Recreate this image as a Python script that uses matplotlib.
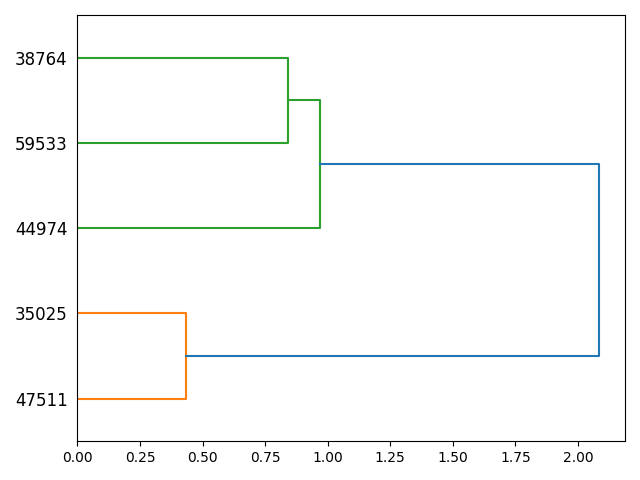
import numpy as np
from matplotlib import pyplot as plt

# leaf labels, bottom to top
leaf_labels = ['47511', '35025', '44974', '59533', '38764']

# dendrogram links (scipy style): icoord = leaf axis, dcoord = merge distance
icoord = [[5.0, 5.0, 15.0, 15.0],
          [35.0, 35.0, 45.0, 45.0],
          [25.0, 25.0, 40.0, 40.0],
          [10.0, 10.0, 32.5, 32.5]]
dcoord = [[0.0, 0.435, 0.435, 0.0],
          [0.0, 0.843, 0.843, 0.0],
          [0.0, 0.970, 0.970, 0.843],
          [0.435, 2.084, 2.084, 0.970]]
link_colors = ['C1', 'C2', 'C2', 'C0']

fig, ax = plt.subplots(figsize=(6.4, 4.8), dpi=100)

for xs, ys, c in zip(dcoord, icoord, link_colors):
    ax.plot(xs, ys, color=c)

n = len(leaf_labels)
max_d = max(max(d) for d in dcoord)
ax.set_xlim(0, max_d * 1.05)
ax.set_ylim(0, n * 10)
ax.set_yticks(np.arange(n) * 10 + 5)
ax.set_yticklabels(leaf_labels, fontsize=12)
for line in ax.get_yticklines():
    line.set_visible(False)

fig.tight_layout()
plt.savefig('out.png')
